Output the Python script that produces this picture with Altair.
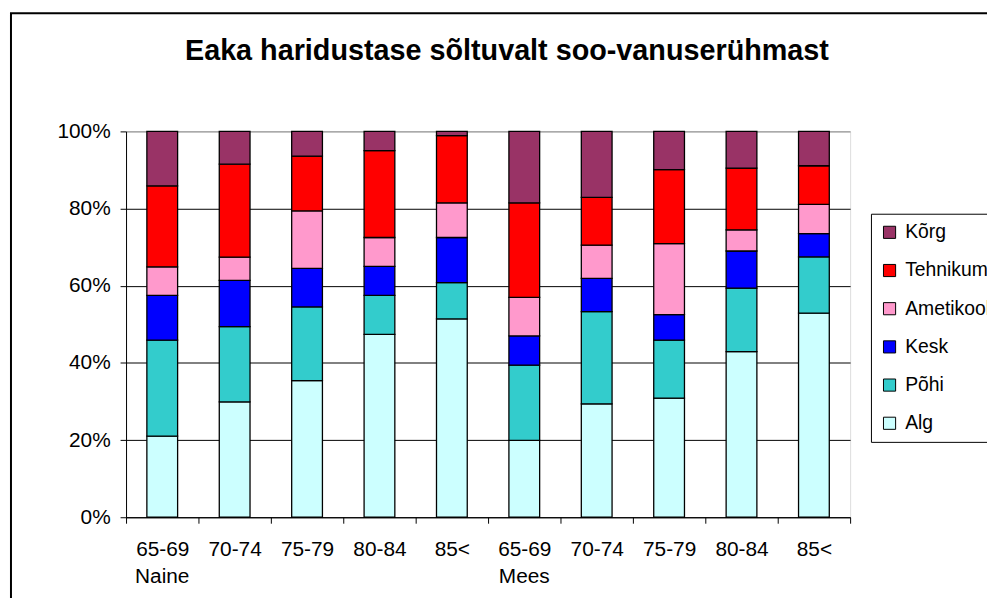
import altair as alt
import pandas as pd

ages = ["65-69", "70-74", "75-79", "80-84", "85<"]
groups = ["Naine", "Mees"]
levels = ["Alg", "Põhi", "Kesk", "Ametikool", "Tehnikum", "Kõrg"]
legend_order = ["Kõrg", "Tehnikum", "Ametikool", "Kesk", "Põhi", "Alg"]
colors = ["#993366", "#FF0000", "#FF99CC", "#0000FF", "#33CCCC", "#CCFFFF"]

# percentages per bar (Naine 65-69 ... 85<, Mees 65-69 ... 85<)
alg = [21.0, 29.9, 35.4, 47.4, 51.4, 19.9, 29.4, 30.9, 42.9, 52.9]
pohi = [24.9, 19.5, 19.1, 10.1, 9.4, 19.5, 23.9, 15.0, 16.5, 14.6]
kesk = [11.6, 12.0, 10.0, 7.5, 11.7, 7.6, 8.6, 6.6, 9.6, 6.0]
amet = [7.4, 6.0, 14.9, 7.5, 9.0, 10.0, 8.6, 18.4, 5.5, 7.6]
tehn = [21.0, 24.1, 14.2, 22.5, 17.4, 24.5, 12.4, 19.2, 16.0, 10.0]
korg = [14.1, 8.5, 6.4, 5.0, 1.1, 18.5, 17.1, 9.9, 9.5, 8.9]

series = [alg, pohi, kesk, amet, tehn, korg]
keys = [f"{g}:{a}" for g in groups for a in ages]

rows = []
for li, (lev, vals) in enumerate(zip(levels, series)):
    for k, v in zip(keys, vals):
        rows.append({"cat": k, "level": lev, "idx": li, "value": v})
df = pd.DataFrame(rows)

grp_df = pd.DataFrame({"cat": [f"{g}:{ages[0]}" for g in groups], "label": groups})

FONT = "Liberation Sans, Arial, sans-serif"

x_enc = alt.X("cat:N", sort=keys, title=None,
              scale=alt.Scale(paddingInner=0, paddingOuter=0),
              axis=alt.Axis(labelExpr="split(datum.value, ':')[1]", labelAngle=0,
                            labelFont=FONT, labelFontSize=21, labelColor="black",
                            labelPadding=16, labelBaseline="top",
                            tickBand="extent", tickColor="black", tickSize=6,
                            domainColor="black", grid=False))

bars = alt.Chart(df).mark_bar(size=31, stroke="black", strokeWidth=1.3).encode(
    x=x_enc,
    y=alt.Y("value:Q", stack="normalize", title=None,
            scale=alt.Scale(domain=[0, 1]),
            axis=alt.Axis(values=[0, 0.2, 0.4, 0.6, 0.8, 1.0], format=".0%",
                          labelFont=FONT, labelFontSize=21, labelColor="black",
                          labelPadding=10, tickColor="black", tickSize=6,
                          domainColor="black", grid=True,
                          gridColor=alt.condition("datum.value >= 1", alt.value("#808080"), alt.value("black")),
                          gridOpacity=1)),
    color=alt.Color("level:N", scale=alt.Scale(domain=legend_order, range=colors),
                    legend=alt.Legend(orient="none", legendX=751, legendY=83,
                                      title=None, direction="vertical",
                                      symbolType="square", symbolSize=150,
                                      symbolStrokeColor="black", symbolStrokeWidth=1,
                                      labelFont=FONT, labelFontSize=19.5, labelColor="black",
                                      labelOffset=6, labelLimit=300,
                                      rowPadding=17.5, padding=9,
                                      strokeColor="black", fillColor="white")),
    order=alt.Order("idx:Q", sort="ascending"),
)

grp_text = alt.Chart(grp_df).mark_text(font=FONT, fontSize=21, color="black",
                                       baseline="middle", align="center").encode(
    x=alt.X("cat:N", sort=keys),
    text="label:N",
    y=alt.value(449),
)

frame = alt.Chart(alt.Data(values=[{"a": 1}])).mark_rect(
    fill="transparent", stroke="black", strokeWidth=2
).encode(
    x=alt.value(-116), x2=alt.value(1000), y=alt.value(-119), y2=alt.value(700)
)

chart = alt.layer(bars, grp_text, frame).properties(
    width=730, height=389,
    padding={"left": 119, "top": 122, "right": 138, "bottom": 79},
    autosize=alt.AutoSizeParams(type="none"),
    title=alt.TitleParams("Eaka haridustase sõltuvalt soo-vanuserühmast",
                          font=FONT, fontSize=29, fontWeight="bold", color="black",
                          anchor="middle", dx=19, offset=-54),
).configure_view(stroke="#808080", strokeWidth=1).configure(background="white")

chart.save("out.html", embed_options={"renderer": "svg", "actions": False})
